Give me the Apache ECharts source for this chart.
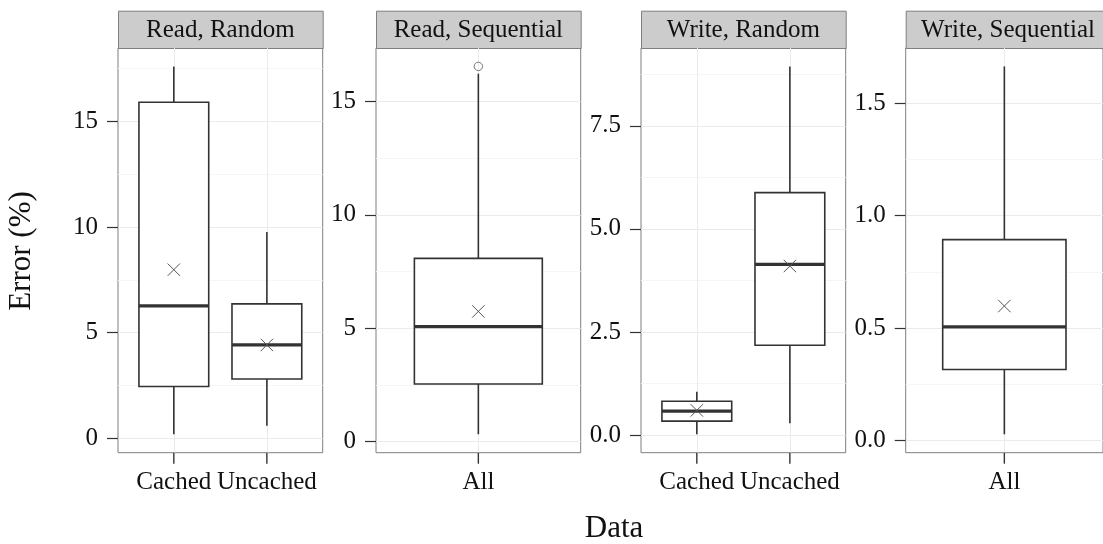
<!DOCTYPE html>
<html>
<head>
<meta charset="utf-8">
<script src="https://cdn.jsdelivr.net/npm/echarts@6/dist/echarts.min.js"></script>
<style>
  html, body { margin: 0; padding: 0; background: #ffffff; }
  #chart { width: 1103px; height: 544px; }
</style>
</head>
<body>
<div id="chart"></div>
<script>
// ---- Data ---------------------------------------------------------------
const facetTitles = ['Read, Random', 'Read, Sequential', 'Write, Random', 'Write, Sequential'];

const readRandomGroups = ['Cached', 'Uncached'];
const readSequentialGroups = ['All'];
const writeRandomGroups = ['Cached', 'Uncached'];
const writeSequentialGroups = ['All'];

// Box summaries: [lower whisker, Q1, median, Q3, upper whisker]
const readRandomBoxes = [[0.19, 2.45, 6.27, 15.9, 17.6], [0.6, 2.81, 4.42, 6.36, 9.76]];
const readSequentialBoxes = [[0.32, 2.54, 5.07, 8.08, 16.23]];
const writeRandomBoxes = [[0.02, 0.34, 0.58, 0.82, 1.05], [0.29, 2.18, 4.14, 5.88, 8.94]];
const writeSequentialBoxes = [[0.028, 0.316, 0.505, 0.893, 1.663]];

// Group means (drawn as crosses)
const readRandomMeans = [7.98, 4.42];
const readSequentialMeans = [5.74];
const writeRandomMeans = [0.6, 4.1];
const writeSequentialMeans = [0.598];

// Outliers: [group number, value]
const readRandomOutliers = [];
const readSequentialOutliers = [[1, 16.55]];
const writeRandomOutliers = [];
const writeSequentialOutliers = [];

// Y tick values (major breaks) and minor grid breaks
const readRandomTicks = [0, 5, 10, 15];
const readSequentialTicks = [0, 5, 10, 15];
const writeRandomTicks = [0, 2.5, 5, 7.5];
const writeSequentialTicks = [0, 0.5, 1, 1.5];
const readRandomMinor = [2.5, 7.5, 12.5, 17.5];
const readSequentialMinor = [2.5, 7.5, 12.5];
const writeRandomMinor = [1.25, 3.75, 6.25, 8.75];
const writeSequentialMinor = [0.25, 0.75, 1.25];
const tickDecimals = [0, 0, 1, 1];

const yTitle = 'Error (%)';
const xTitle = 'Data';

// ---- Layout -------------------------------------------------------------
const SERIF = '"Liberation Serif", "DejaVu Serif", serif';
const PANEL_LEFT = [118, 376, 641, 905.7];
const PANEL_W = 204.7;
const PANEL_TOP = 48;
const PANEL_H = 404.7;
const STRIP_TOP = 10.7;
const BOX_HALF = 0.375;
const TICK_LEN = 11;

const facets = [
  { groups: readRandomGroups, boxes: readRandomBoxes, means: readRandomMeans, outliers: readRandomOutliers, ticks: readRandomTicks, minor: readRandomMinor },
  { groups: readSequentialGroups, boxes: readSequentialBoxes, means: readSequentialMeans, outliers: readSequentialOutliers, ticks: readSequentialTicks, minor: readSequentialMinor },
  { groups: writeRandomGroups, boxes: writeRandomBoxes, means: writeRandomMeans, outliers: writeRandomOutliers, ticks: writeRandomTicks, minor: writeRandomMinor },
  { groups: writeSequentialGroups, boxes: writeSequentialBoxes, means: writeSequentialMeans, outliers: writeSequentialOutliers, ticks: writeSequentialTicks, minor: writeSequentialMinor }
];

// One box per group: whiskers, box, median bar and mean cross.
function renderBox(params, api) {
  const x = api.value(0);
  const cx = api.coord([x, api.value(3)])[0];
  const left = api.coord([x - BOX_HALF, 0])[0];
  const right = api.coord([x + BOX_HALF, 0])[0];
  const yLo = api.coord([x, api.value(1)])[1];
  const yQ1 = api.coord([x, api.value(2)])[1];
  const yMed = api.coord([x, api.value(3)])[1];
  const yQ3 = api.coord([x, api.value(4)])[1];
  const yHi = api.coord([x, api.value(5)])[1];
  const yMean = api.coord([x, api.value(6)])[1];
  const edge = { stroke: '#333333', lineWidth: 1.6 };
  const m = 6.2;
  return {
    type: 'group',
    children: [
      { type: 'line', shape: { x1: cx, y1: yQ3, x2: cx, y2: yHi }, style: edge },
      { type: 'line', shape: { x1: cx, y1: yQ1, x2: cx, y2: yLo }, style: edge },
      { type: 'rect', shape: { x: left, y: yQ3, width: right - left, height: yQ1 - yQ3 },
        style: { fill: '#ffffff', stroke: '#333333', lineWidth: 1.6 } },
      { type: 'line', shape: { x1: left, y1: yMed, x2: right, y2: yMed },
        style: { stroke: '#333333', lineWidth: 3.2 } },
      { type: 'line', shape: { x1: cx - m, y1: yMean - m, x2: cx + m, y2: yMean + m },
        style: { stroke: '#555555', lineWidth: 1 } },
      { type: 'line', shape: { x1: cx - m, y1: yMean + m, x2: cx + m, y2: yMean - m },
        style: { stroke: '#555555', lineWidth: 1 } }
    ]
  };
}

function renderOutlier(params, api) {
  const p = api.coord([api.value(0), api.value(1)]);
  return { type: 'circle', shape: { cx: p[0], cy: p[1], r: 4.2 },
           style: { fill: 'none', stroke: '#777777', lineWidth: 1 } };
}

const grids = [], xAxes = [], yAxes = [], series = [], graphics = [];
const yMins = [];

facets.forEach((f, i) => {
  const positions = f.groups.map((g, k) => k + 1);
  // data range incl. outliers, padded by 5% on each side
  const vals = [];
  f.boxes.forEach(b => vals.push(...b));
  f.means.forEach(v => vals.push(v));
  f.outliers.forEach(o => vals.push(o[1]));
  const lo = Math.min(...vals), hi = Math.max(...vals);
  const pad = (hi - lo) * 0.05;
  const yMin = lo - pad, yMax = hi + pad;
  yMins.push(yMin);

  grids.push({
    left: PANEL_LEFT[i], top: PANEL_TOP, width: PANEL_W, height: PANEL_H,
    show: true, borderColor: '#7f7f7f', borderWidth: 1, backgroundColor: '#ffffff'
  });

  xAxes.push({
    gridIndex: i, type: 'value', min: 0.4, max: f.groups.length + 0.6, position: 'bottom',
    axisLine: { show: false, onZero: false },
    axisTick: { show: false, customValues: positions },
    axisLabel: {
      customValues: positions, formatter: v => f.groups[Math.round(v) - 1],
      margin: 17, color: '#111111', fontSize: 25, fontFamily: SERIF
    },
    splitLine: { show: true, lineStyle: { color: '#ebebeb', width: 1 } }
  });

  yAxes.push({
    gridIndex: i, type: 'value', min: yMin, max: yMax, position: 'left',
    axisLine: { show: false, onZero: false },
    axisTick: { show: true, customValues: f.ticks, length: TICK_LEN, lineStyle: { color: '#333333', width: 1.2 } },
    axisLabel: {
      customValues: f.ticks, formatter: v => v.toFixed(tickDecimals[i]),
      margin: 20, color: '#111111', fontSize: 25, fontFamily: SERIF
    },
    splitLine: { show: true, lineStyle: { color: '#ebebeb', width: 1 } }
  });
  yAxes.push({
    gridIndex: i, type: 'value', min: yMin, max: yMax, position: 'left',
    axisLine: { show: false, onZero: false },
    axisTick: { show: false, customValues: f.minor },
    axisLabel: { show: false },
    splitLine: { show: true, lineStyle: { color: '#f6f6f6', width: 1 } }
  });

  series.push({
    type: 'custom', xAxisIndex: i, yAxisIndex: 2 * i, renderItem: renderBox,
    data: f.boxes.map((b, k) => [k + 1, ...b, f.means[k]]), z: 3
  });
  if (f.outliers.length) {
    series.push({
      type: 'custom', xAxisIndex: i, yAxisIndex: 2 * i, renderItem: renderOutlier,
      data: f.outliers, z: 4
    });
  }

  // facet strip
  graphics.push({
    type: 'rect', left: PANEL_LEFT[i], top: STRIP_TOP,
    shape: { width: PANEL_W, height: PANEL_TOP - STRIP_TOP },
    style: { fill: '#cccccc', stroke: '#7f7f7f', lineWidth: 1 }
  });
  graphics.push({
    type: 'text', x: PANEL_LEFT[i] + PANEL_W / 2, y: 30.5,
    style: { text: facetTitles[i], font: '25px ' + SERIF, fill: '#111111', align: 'center', verticalAlign: 'middle' }
  });
});

graphics.push({
  type: 'text', x: 614, y: 529,
  style: { text: xTitle, font: '31px ' + SERIF, fill: '#111111', align: 'center', verticalAlign: 'middle' }
});
graphics.push({
  type: 'text', x: 22, y: 251, rotation: Math.PI / 2,
  style: { text: yTitle, font: '31px ' + SERIF, fill: '#111111', align: 'center', verticalAlign: 'middle' }
});

const chart = echarts.init(document.getElementById('chart'), null, { renderer: 'canvas' });
chart.setOption({
  animation: false,
  backgroundColor: '#ffffff',
  grid: grids,
  xAxis: xAxes,
  yAxis: yAxes,
  series: series,
  graphic: graphics
});

// Category tick marks under each panel, placed through the axis scales.
const tickMarks = [];
facets.forEach((f, i) => {
  f.groups.forEach((g, k) => {
    const p = chart.convertToPixel({ xAxisIndex: i, yAxisIndex: 2 * i }, [k + 1, yMins[i]]);
    tickMarks.push({
      type: 'line', z: 100,
      shape: { x1: p[0], y1: p[1], x2: p[0], y2: p[1] + TICK_LEN },
      style: { stroke: '#333333', lineWidth: 1.4 }
    });
  });
});
chart.setOption({ graphic: graphics.concat(tickMarks) });
</script>
</body>
</html>
